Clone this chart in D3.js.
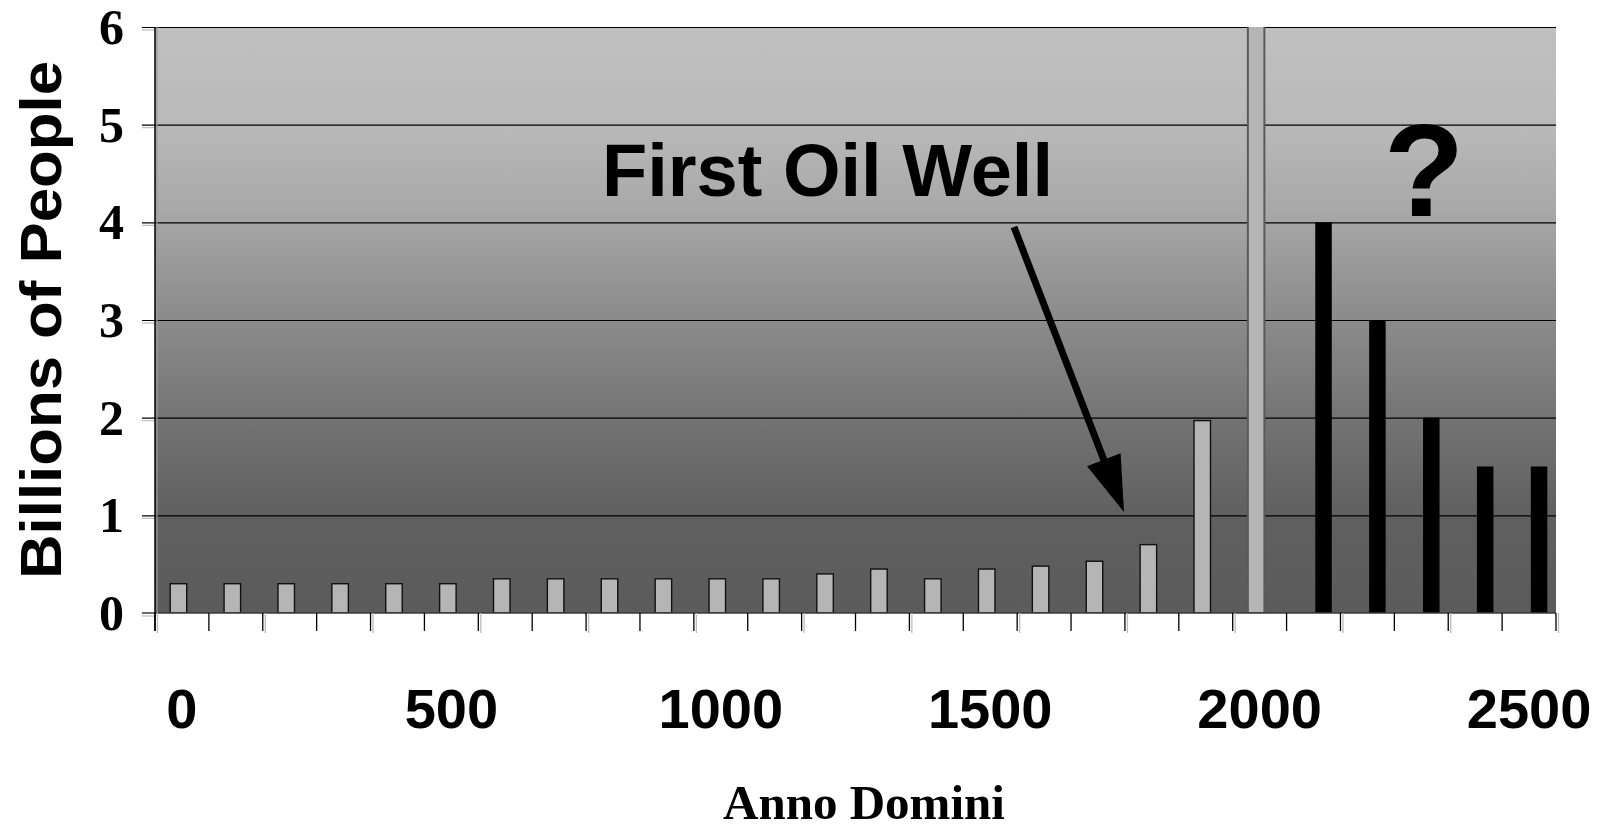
<!DOCTYPE html>
<html>
<head>
<meta charset="utf-8">
<script src="https://cdn.jsdelivr.net/npm/d3@7"></script>
<style>
  html, body { margin: 0; padding: 0; background: #fff; }
  svg { display: block; }
</style>
</head>
<body>
<div id="chart"></div>
<script>
// categories (years AD)
var years = [0, 100, 200, 300, 400, 500, 600, 700, 800, 900, 1000, 1100, 1200,
             1300, 1400, 1500, 1600, 1700, 1800, 1900, 2000, 2100, 2200, 2300, 2400, 2500];
var yearLabels = [0, 500, 1000, 1500, 2000, 2500];

// world population, billions, up to 2000
var pastYears = [0, 100, 200, 300, 400, 500, 600, 700, 800, 900, 1000, 1100, 1200,
                 1300, 1400, 1500, 1600, 1700, 1800, 1900, 2000];
var pastValues = [0.3, 0.3, 0.3, 0.3, 0.3, 0.3, 0.35, 0.35, 0.35, 0.35, 0.35, 0.35, 0.4,
                  0.45, 0.35, 0.45, 0.48, 0.53, 0.7, 1.97, 6.1];

// after the oil
var futureYears = [2100, 2200, 2300, 2400, 2500];
var futureValues = [4, 3, 2, 1.5, 1.5];

var yTicks = [0, 1, 2, 3, 4, 5, 6];

var W = 1606, H = 831;
var margin = {top: 27, right: 50, bottom: 218, left: 155};
var chartWidth = W - margin.left - margin.right;
var chartHeight = H - margin.top - margin.bottom;

var svg = d3.select('#chart').append('svg')
    .attr('width', W)
    .attr('height', H);

var defs = svg.append('defs');
var grad = defs.append('linearGradient')
    .attr('id', 'wall')
    .attr('x1', 0).attr('y1', 0).attr('x2', 0).attr('y2', 1);
[[0, '#c0c0c0'], [0.17, '#b9b9b9'], [0.33, '#a6a6a6'], [0.47, '#8f8f8f'],
 [0.6, '#7e7e7e'], [0.67, '#737373'], [0.83, '#606060'], [1, '#5b5b5b']]
  .forEach(function(s) {
    grad.append('stop').attr('offset', s[0]).attr('stop-color', s[1]);
  });

defs.append('clipPath').attr('id', 'plotclip')
  .append('rect').attr('width', chartWidth).attr('height', chartHeight);

var g = svg.append('g')
    .attr('transform', `translate(${margin.left}, ${margin.top})`);

var xScale = d3.scaleBand()
    .domain(years)
    .range([0, chartWidth]);

var yScale = d3.scaleLinear()
    .domain([0, 6])
    .range([chartHeight, 0]);

// where each series sits inside its category (centre offset from band centre)
var seriesOffset = d3.scalePoint()
    .domain(['past', 'future'])
    .range([-3.5, 10]);
var barWidth = 16.5;

// plot background
g.append('rect')
    .attr('width', chartWidth)
    .attr('height', chartHeight)
    .attr('fill', 'url(#wall)');

// gridlines, running out to the left as ticks
g.append('g')
    .attr('class', 'y grid')
    .attr('transform', 'translate(' + chartWidth + ',0)')
    .call(d3.axisLeft(yScale).tickValues(yTicks.slice(1)).tickSize(chartWidth + 13).tickFormat(''))
    .call(function(a) {
      a.select('.domain').remove();
      a.selectAll('line').attr('stroke', '#000').attr('stroke-width', 1.2);
    });

// light ghost ticks of the y axis
g.append('g')
    .attr('transform', 'translate(0,2.5)')
    .call(d3.axisLeft(yScale).tickValues(yTicks).tickSize(13).tickFormat(''))
    .call(function(a) {
      a.select('.domain').remove();
      a.selectAll('line').attr('stroke', '#bdbdbd').attr('stroke-width', 1.2);
    });

// y tick labels
g.append('g')
    .selectAll('text')
    .data(yTicks)
    .enter()
    .append('text')
    .attr('x', -31)
    .attr('y', function(d) { return yScale(d); })
    .attr('dy', '0.34em')
    .attr('text-anchor', 'end')
    .style('font-family', '"Liberation Serif", "Times New Roman", serif')
    .style('font-weight', 'bold')
    .style('font-size', '50px')
    .text(function(d) { return d; });

// bars
var plot = g.append('g').attr('clip-path', 'url(#plotclip)');

plot.selectAll('rect.past')
    .data(pastYears.map(function(y, i) { return {year: y, value: pastValues[i]}; }))
    .enter()
    .append('rect')
    .attr('class', 'past')
    .attr('x', function(d) {
      return xScale(d.year) + xScale.bandwidth() / 2 + seriesOffset('past') - barWidth / 2;
    })
    .attr('y', function(d) { return yScale(d.value); })
    .attr('width', barWidth)
    .attr('height', function(d) { return chartHeight - yScale(d.value); })
    .attr('fill', '#b5b5b5')
    .attr('stroke', function(d) { return d.value > 6 ? '#5a5a5a' : '#111'; })
    .attr('stroke-width', function(d) { return d.value > 6 ? 2 : 1.4; });

plot.selectAll('rect.future')
    .data(futureYears.map(function(y, i) { return {year: y, value: futureValues[i]}; }))
    .enter()
    .append('rect')
    .attr('class', 'future')
    .attr('x', function(d) {
      return xScale(d.year) + xScale.bandwidth() / 2 + seriesOffset('future') - barWidth / 2;
    })
    .attr('y', function(d) { return yScale(d.value); })
    .attr('width', barWidth)
    .attr('height', function(d) { return chartHeight - yScale(d.value); })
    .attr('fill', '#000');

// baseline
g.append('line')
    .attr('x1', -13).attr('x2', chartWidth)
    .attr('y1', yScale(0)).attr('y2', yScale(0))
    .attr('stroke', '#3a3a3a')
    .attr('stroke-width', 1.5);

// x ticks at category boundaries
var boundaries = years.map(function(y) { return xScale(y); }).concat([chartWidth]);
g.append('g')
    .selectAll('line')
    .data(boundaries)
    .enter()
    .append('line')
    .attr('x1', function(d) { return d; })
    .attr('x2', function(d) { return d; })
    .attr('y1', chartHeight)
    .attr('y2', chartHeight + 18)
    .attr('stroke', '#000')
    .attr('stroke-width', 1.3);

// light secondary ticks, every other boundary
g.append('g')
    .selectAll('line')
    .data(boundaries.filter(function(d, i) { return i % 2 === 0; }))
    .enter()
    .append('line')
    .attr('x1', function(d) { return d + 2.5; })
    .attr('x2', function(d) { return d + 2.5; })
    .attr('y1', chartHeight)
    .attr('y2', chartHeight + 20)
    .attr('stroke', '#bdbdbd')
    .attr('stroke-width', 1.3);

// y axis line
g.append('rect')
    .attr('x', 0.5).attr('y', 0)
    .attr('width', 2.5).attr('height', chartHeight)
    .attr('fill', '#999')
    .attr('opacity', 0.6);
g.append('line')
    .attr('x1', 0).attr('x2', 0)
    .attr('y1', 0).attr('y2', chartHeight + 18)
    .attr('stroke', '#000')
    .attr('stroke-width', 1.5);

// x labels
g.append('g')
    .selectAll('text')
    .data(yearLabels)
    .enter()
    .append('text')
    .attr('x', function(d) { return xScale(d) + xScale.bandwidth() / 2; })
    .attr('y', chartHeight + 115)
    .attr('text-anchor', 'middle')
    .style('font-family', '"Liberation Sans", Arial, sans-serif')
    .style('font-weight', 'bold')
    .style('font-size', '56px')
    .text(function(d) { return d; });

// axis titles
svg.append('text')
    .attr('x', 864)
    .attr('y', 819)
    .attr('text-anchor', 'middle')
    .style('font-family', '"Liberation Serif", "Times New Roman", serif')
    .style('font-weight', 'bold')
    .style('font-size', '49px')
    .text('Anno Domini');

svg.append('text')
    .attr('transform', 'translate(61, 320) rotate(-90)')
    .attr('text-anchor', 'middle')
    .attr('textLength', 518)
    .attr('lengthAdjust', 'spacingAndGlyphs')
    .style('font-family', '"Liberation Sans", Arial, sans-serif')
    .style('font-weight', 'bold')
    .style('font-size', '57px')
    .text('Billions of People');

// annotation
svg.append('text')
    .attr('x', 602)
    .attr('y', 196)
    .style('font-family', '"Liberation Sans", Arial, sans-serif')
    .style('font-weight', 'bold')
    .style('font-size', '74px')
    .text('First Oil Well');

svg.append('text')
    .attr('x', 1424)
    .attr('y', 216)
    .attr('text-anchor', 'middle')
    .style('font-family', '"Liberation Sans", Arial, sans-serif')
    .style('font-weight', 'bold')
    .style('font-size', '132px')
    .text('?');

// arrow pointing at 1859
var arrowFrom = [1014, 227], arrowTo = [1124, 512];
var dx = arrowTo[0] - arrowFrom[0], dy = arrowTo[1] - arrowFrom[1];
var len = Math.sqrt(dx * dx + dy * dy);
var ux = dx / len, uy = dy / len;
var headLen = 56, headHalf = 18;
var bx = arrowTo[0] - ux * headLen, by = arrowTo[1] - uy * headLen;

svg.append('line')
    .attr('x1', arrowFrom[0]).attr('y1', arrowFrom[1])
    .attr('x2', bx + ux * 4).attr('y2', by + uy * 4)
    .attr('stroke', '#000')
    .attr('stroke-width', 7);

svg.append('path')
    .attr('d', d3.line()([
      arrowTo,
      [bx - uy * headHalf, by + ux * headHalf],
      [bx + uy * headHalf, by - ux * headHalf]
    ]) + 'Z')
    .attr('fill', '#000');
</script>
</body>
</html>
